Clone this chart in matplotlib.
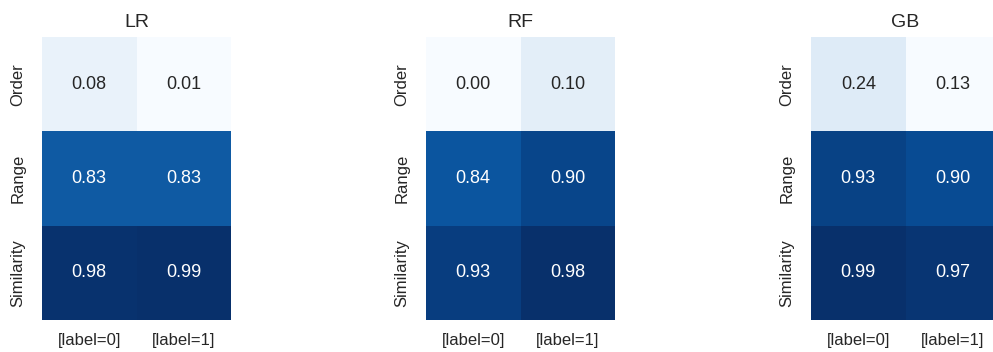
import numpy as np
import pandas as pd
import matplotlib
matplotlib.use("Agg")
import matplotlib.pyplot as plt
import seaborn as sns

sns.set_theme(style="white", context="notebook")
plt.rcParams["font.family"] = ["Liberation Sans", "DejaVu Sans"]

# feature groups x class label, one table per model
features = ["Order", "Range", "Similarity"]
labels = ["[label=0]", "[label=1]"]
models = ["LR", "RF", "GB"]

lr_vals = [[0.08, 0.01],
           [0.83, 0.83],
           [0.98, 0.99]]
rf_vals = [[0.00, 0.10],
           [0.84, 0.90],
           [0.93, 0.98]]
gb_vals = [[0.24, 0.13],
           [0.93, 0.90],
           [0.99, 0.97]]

tables = [lr_vals, rf_vals, gb_vals]

fig = plt.figure(figsize=(9.93, 3.52), dpi=100)
W, H = 993.0, 352.0
lefts = [42, 426, 811]
for name, vals, left in zip(models, tables, lefts):
    ax = fig.add_axes([left / W, 32 / H, 189 / W, 283 / H])
    df = pd.DataFrame(vals, index=features, columns=labels)
    sns.heatmap(df, ax=ax, cmap="Blues", annot=True, fmt=".2f", cbar=False,
                annot_kws={"size": 13})
    ax.set_title(name, fontsize=14, pad=7)
    ax.tick_params(axis="both", length=0, labelsize=12)
    ax.tick_params(axis="x", pad=9)
    ax.tick_params(axis="y", pad=12)
    ax.set_yticklabels(features, rotation=90, va="center")

fig.savefig("out.png", dpi=100)
